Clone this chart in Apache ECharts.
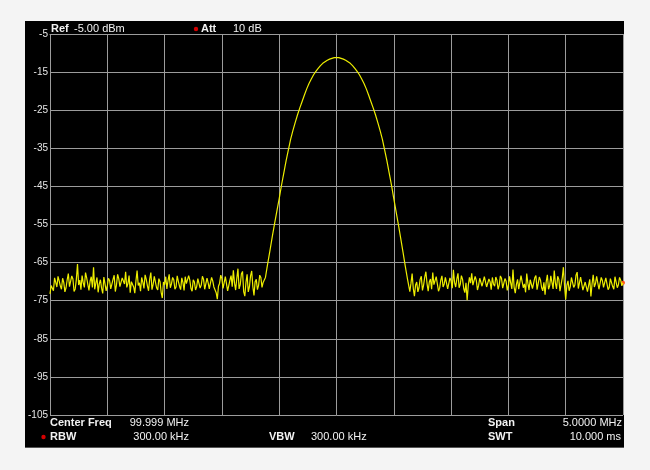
<!DOCTYPE html>
<html>
<head>
<meta charset="utf-8">
<script src="https://cdn.jsdelivr.net/npm/echarts@6/dist/echarts.min.js"></script>
<style>
html,body{margin:0;padding:0;background:#f4f4f4;}
#chart{width:650px;height:470px;}
</style>
</head>
<body>
<div id="chart"></div>
<script>
// ---- data ----
const refLevelDbm = -5;
// frequencies are offsets (MHz) from the 99.999 MHz centre frequency
const noiseLeftStartMHz = -2.5, noiseStepMHz = 0.01;
const signalStartMHz = -0.62, signalStepMHz = 0.02;
const noiseRightStartMHz = 0.64;

const noiseLeft = [
  -73.2,-71.0,-70.5,-72.4,-69.0,-70.2,-71.4,-68.6,-69.8,-71.1,
  -72.0,-69.1,-70.2,-72.7,-71.6,-69.5,-67.9,-71.3,-70.8,-68.5,
  -69.3,-72.6,-71.9,-69.4,-65.4,-70.9,-69.6,-72.1,-68.4,-70.3,
  -71.5,-67.6,-69.0,-70.7,-72.3,-69.9,-68.7,-71.5,-66.2,-72.0,
  -70.4,-68.9,-72.8,-70.6,-69.5,-71.7,-73.1,-68.8,-70.6,-72.4,
  -71.2,-69.1,-69.7,-71.9,-72.0,-69.4,-68.3,-72.6,-70.9,-68.1,
  -69.2,-71.3,-71.7,-69.0,-68.8,-70.6,-67.4,-71.5,-70.5,-68.4,
  -72.9,-70.0,-69.6,-71.4,-73.0,-69.8,-67.1,-71.0,-70.3,-72.5,
  -68.9,-70.1,-71.8,-68.2,-69.4,-71.1,-72.4,-69.3,-67.6,-72.1,
  -70.7,-68.6,-69.1,-71.6,-72.2,-69.2,-70.0,-72.8,-74.3,-70.1,
  -70.8,-68.7,-71.9,-69.7,-68.1,-71.6,-70.6,-68.9,-69.5,-72.0,
  -71.4,-68.5,-69.9,-71.2,-72.1,-69.0,-70.2,-72.3,-68.7,-70.5,
  -71.0,-68.4,-69.6,-71.8,-72.5,-69.5,-70.1,-72.2,-71.3,-69.2,
  -68.8,-71.7,-70.9,-68.6,-69.4,-72.0,-71.6,-69.1,-70.3,-71.9,
  -72.0,-68.9,-69.8,-71.4,-71.1,-72.9,-74.6,-71.2,-70.4,-68.3,
  -69.2,-71.8,-71.5,-68.7,-69.0,-72.4,-71.9,-69.6,-68.4,-71.3,
  -67.0,-70.4,-72.2,-69.1,-66.6,-71.9,-70.8,-68.0,-67.3,-72.6,
  -73.8,-70.2,-68.1,-72.7,-71.4,-68.5,-67.2,-71.3,-73.6,-70.0,
  -69.4,-72.1,-71.0,-68.3,-68.9,-71.5,-70.2
];

const signalPeak = [
  -68.9,-65.2,-61.7,-58.1,-54.7,-51.4,-48.2,-44.7,-41.5,-38.3,
  -35.4,-32.6,-30.3,-28.2,-26.2,-24.4,-22.7,-21.0,-19.4,-18.0,
  -16.8,-15.7,-14.8,-14.0,-13.3,-12.7,-12.3,-11.9,-11.6,-11.4,
  -11.2,-11.2,-11.2,-11.4,-11.6,-11.9,-12.3,-12.7,-13.3,-14.0,
  -14.8,-15.7,-16.8,-18.0,-19.4,-21.0,-22.7,-24.4,-26.2,-28.2,
  -30.3,-32.6,-35.4,-38.3,-41.5,-44.7,-48.2,-51.6,-55.0,-58.6,
  -62.2,-65.9,-69.4
];

const noiseRight = [
  -72.6,-70.4,-67.9,-71.8,-73.8,-70.9,-70.1,-72.7,-71.6,-69.4,
  -68.6,-72.3,-70.9,-68.8,-67.4,-70.5,-72.5,-70.1,-69.3,-72.0,
  -67.6,-70.8,-71.2,-68.7,-69.0,-72.5,-71.7,-69.6,-68.5,-71.4,
  -70.6,-68.9,-69.2,-71.9,-72.0,-69.0,-69.8,-71.7,-66.9,-70.2,
  -71.4,-69.3,-67.8,-71.6,-70.7,-68.4,-69.4,-71.8,-72.9,-70.3,
  -74.9,-71.0,-68.9,-70.4,-67.8,-70.9,-71.3,-68.6,-69.7,-72.2,
  -71.0,-69.1,-69.5,-71.2,-70.8,-68.7,-69.2,-71.4,-71.6,-69.3,
  -70.0,-72.1,-68.9,-70.6,-71.2,-68.8,-69.6,-72.0,-70.9,-68.5,
  -69.1,-71.7,-71.8,-69.2,-69.9,-72.3,-71.0,-68.6,-70.3,-71.9,
  -66.8,-71.5,-73.0,-70.7,-69.4,-72.0,-71.5,-68.4,-68.9,-71.6,
  -70.6,-72.8,-67.9,-70.4,-72.2,-69.5,-69.3,-71.8,-71.7,-69.0,
  -68.4,-72.1,-70.5,-68.8,-69.6,-71.6,-72.4,-70.2,-73.4,-70.0,
  -68.2,-72.0,-71.1,-68.5,-69.0,-71.9,-67.1,-70.3,-71.9,-68.6,
  -69.4,-72.5,-72.1,-69.0,-66.2,-71.2,-74.7,-71.0,-69.8,-72.4,
  -71.3,-68.9,-68.7,-71.5,-70.9,-68.3,-67.5,-71.8,-71.6,-68.8,
  -69.3,-72.2,-72.3,-70.1,-69.9,-72.6,-71.0,-69.4,-73.9,-70.6,
  -68.2,-71.4,-70.5,-68.6,-69.1,-72.0,-71.8,-68.9,-69.7,-71.5,
  -71.2,-69.0,-68.9,-72.1,-71.5,-69.2,-69.5,-71.3,-72.0,-68.7,
  -69.2,-71.6,-70.8,-68.9,-69.6,-71.1,-70.3
];

// ---- build ----
function segment(values, start, step) {
  // plotted relative to the reference level (top of screen = Ref)
  return values.map((v, i) => [+(start + i * step).toFixed(3), v - refLevelDbm]);
}
const traceData = segment(noiseLeft, noiseLeftStartMHz, noiseStepMHz)
  .concat(segment(signalPeak, signalStartMHz, signalStepMHz))
  .concat(segment(noiseRight, noiseRightStartMHz, noiseStepMHz));
const lastPt = traceData[traceData.length - 1];

const chart = echarts.init(document.getElementById('chart'), null, {renderer: 'canvas'});
const FONT = "'Liberation Sans', Arial, sans-serif";
const gridColor = '#9c9c9c';
const txt = '#f2f2f2';

function t(x, y, text, bold, align) {
  return {
    type: 'text', x: x, y: y, z: 10,
    style: {
      text: text, fill: txt,
      font: (bold ? 'bold ' : '') + '11px ' + FONT,
      textAlign: align || 'left', textVerticalAlign: 'middle',
      align: align || 'left', verticalAlign: 'middle'
    }
  };
}

chart.setOption({
  backgroundColor: '#f4f4f4',
  animation: false,
  graphic: [
    {type: 'rect', z: -10, shape: {x: 25, y: 21, width: 599, height: 426}, style: {fill: '#000'}},
    {type: 'rect', z: -11, shape: {x: 25, y: 446, width: 599, height: 2}, style: {fill: '#555'}},
    t(51, 29, 'Ref', true),
    t(74, 29, '-5.00 dBm', false),
    {type: 'circle', z: 10, shape: {cx: 196, cy: 29, r: 2.2}, style: {fill: '#d40000'}},
    t(201, 29, 'Att', true),
    t(233, 29, '10 dB', false),
    t(50, 423, 'Center Freq', true),
    t(189, 423, '99.999 MHz', false, 'right'),
    {type: 'circle', z: 10, shape: {cx: 43.5, cy: 437, r: 2.2}, style: {fill: '#d40000'}},
    t(50, 437, 'RBW', true),
    t(189, 437, '300.00 kHz', false, 'right'),
    t(269, 437, 'VBW', true),
    t(311, 437, '300.00 kHz', false),
    t(488, 423, 'Span', true),
    t(622, 423, '5.0000 MHz', false, 'right'),
    t(488, 437, 'SWT', true),
    t(621, 437, '10.000 ms', false, 'right')
  ],
  grid: {left: 50, top: 34, width: 573, height: 381, containLabel: false},
  xAxis: {
    type: 'value', min: -2.5, max: 2.5, interval: 0.5,
    axisLine: {show: true, lineStyle: {color: gridColor, width: 1}},
    axisTick: {show: false},
    axisLabel: {show: false},
    splitLine: {show: true, lineStyle: {color: gridColor, width: 1}}
  },
  yAxis: {
    type: 'value', min: -100, max: 0, interval: 10,
    axisLine: {show: true, lineStyle: {color: gridColor, width: 1}},
    axisTick: {show: false},
    axisLabel: {
      show: true, color: '#e6e6e6', fontSize: 10, fontFamily: FONT, margin: 2,
      formatter: v => String(Math.round(v + refLevelDbm))
    },
    splitLine: {show: true, lineStyle: {color: gridColor, width: 1}}
  },
  series: [{
    type: 'line',
    data: traceData,
    showSymbol: false,
    symbol: 'none',
    lineStyle: {color: '#eeee00', width: 1.2},
    z: 5,
    markPoint: {
      symbol: 'circle', symbolSize: 4,
      label: {show: false},
      itemStyle: {color: '#ff4a1a'},
      data: [{coord: lastPt}]
    }
  }]
});
</script>
</body>
</html>
